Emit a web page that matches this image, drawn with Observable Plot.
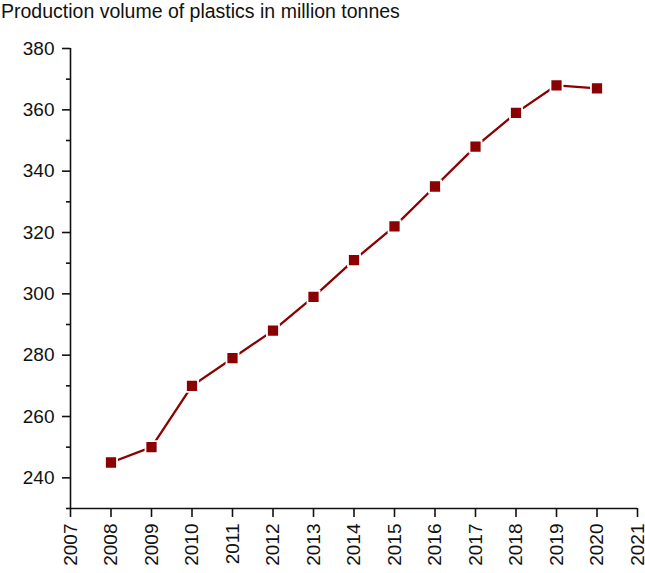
<!DOCTYPE html>
<html>
<head>
<meta charset="utf-8">
<script src="https://cdn.jsdelivr.net/npm/d3@7"></script>
<script src="https://cdn.jsdelivr.net/npm/@observablehq/plot@0.6"></script>
<style>
  body { margin: 0; background: #fff; font-family: "Liberation Sans", Arial, sans-serif; }
  #title { height: 28px; font-size: 19.5px; padding-left: 1px; line-height: 22px; color: #111; white-space: nowrap; }
</style>
</head>
<body>
<div id="title">Production volume of plastics in million tonnes</div>
<div id="chart"></div>
<script>
const years = [2008, 2009, 2010, 2011, 2012, 2013, 2014, 2015, 2016, 2017, 2018, 2019, 2020];
const volumes = [245, 250, 270, 279, 288, 299, 311, 322, 335, 348, 359, 368, 367];
const xTicks = [2007, 2008, 2009, 2010, 2011, 2012, 2013, 2014, 2015, 2016, 2017, 2018, 2019, 2020, 2021];
const yTicks = [240, 260, 280, 300, 320, 340, 360, 380];
const yMinorTicks = [230, 250, 270, 290, 310, 330, 350, 370];

const data = years.map((y, i) => ({year: y, value: volumes[i]}));
const color = "#8b0000";

const chart = Plot.plot({
  width: 645,
  height: 545,
  marginTop: 20,
  marginBottom: 65,
  marginLeft: 70,
  marginRight: 8,
  style: {fontFamily: "'Liberation Sans', Arial, sans-serif", fontSize: "19px", color: "#111", background: "#fff", overflow: "visible"},
  x: {domain: [2007, 2021], label: null},
  y: {domain: [230, 380], label: null},
  marks: [
    Plot.ruleX([2007], {y1: 230, y2: 380, stroke: "#111", strokeWidth: 1.6}),
    Plot.ruleY([230], {x1: 2007, x2: 2021, stroke: "#111", strokeWidth: 1.6}),
    Plot.axisY({ticks: yTicks, tickSize: 8, tickPadding: 8, tickFormat: d => String(d), strokeWidth: 1.6}),
    Plot.axisY({ticks: yMinorTicks, tickSize: 4, tickFormat: () => "", strokeWidth: 1.6}),
    Plot.axisX({ticks: xTicks, tickSize: 9, tickPadding: 6, tickRotate: -90, tickFormat: d => String(d), strokeWidth: 1.6}),
    Plot.line(data, {x: "year", y: "value", stroke: color, strokeWidth: 2.3}),
    Plot.dot(data, {x: "year", y: "value", symbol: "square", r: 6.8, fill: color, stroke: "#fff", strokeWidth: 1.8})
  ]
});
document.getElementById("chart").appendChild(chart);
</script>
</body>
</html>
